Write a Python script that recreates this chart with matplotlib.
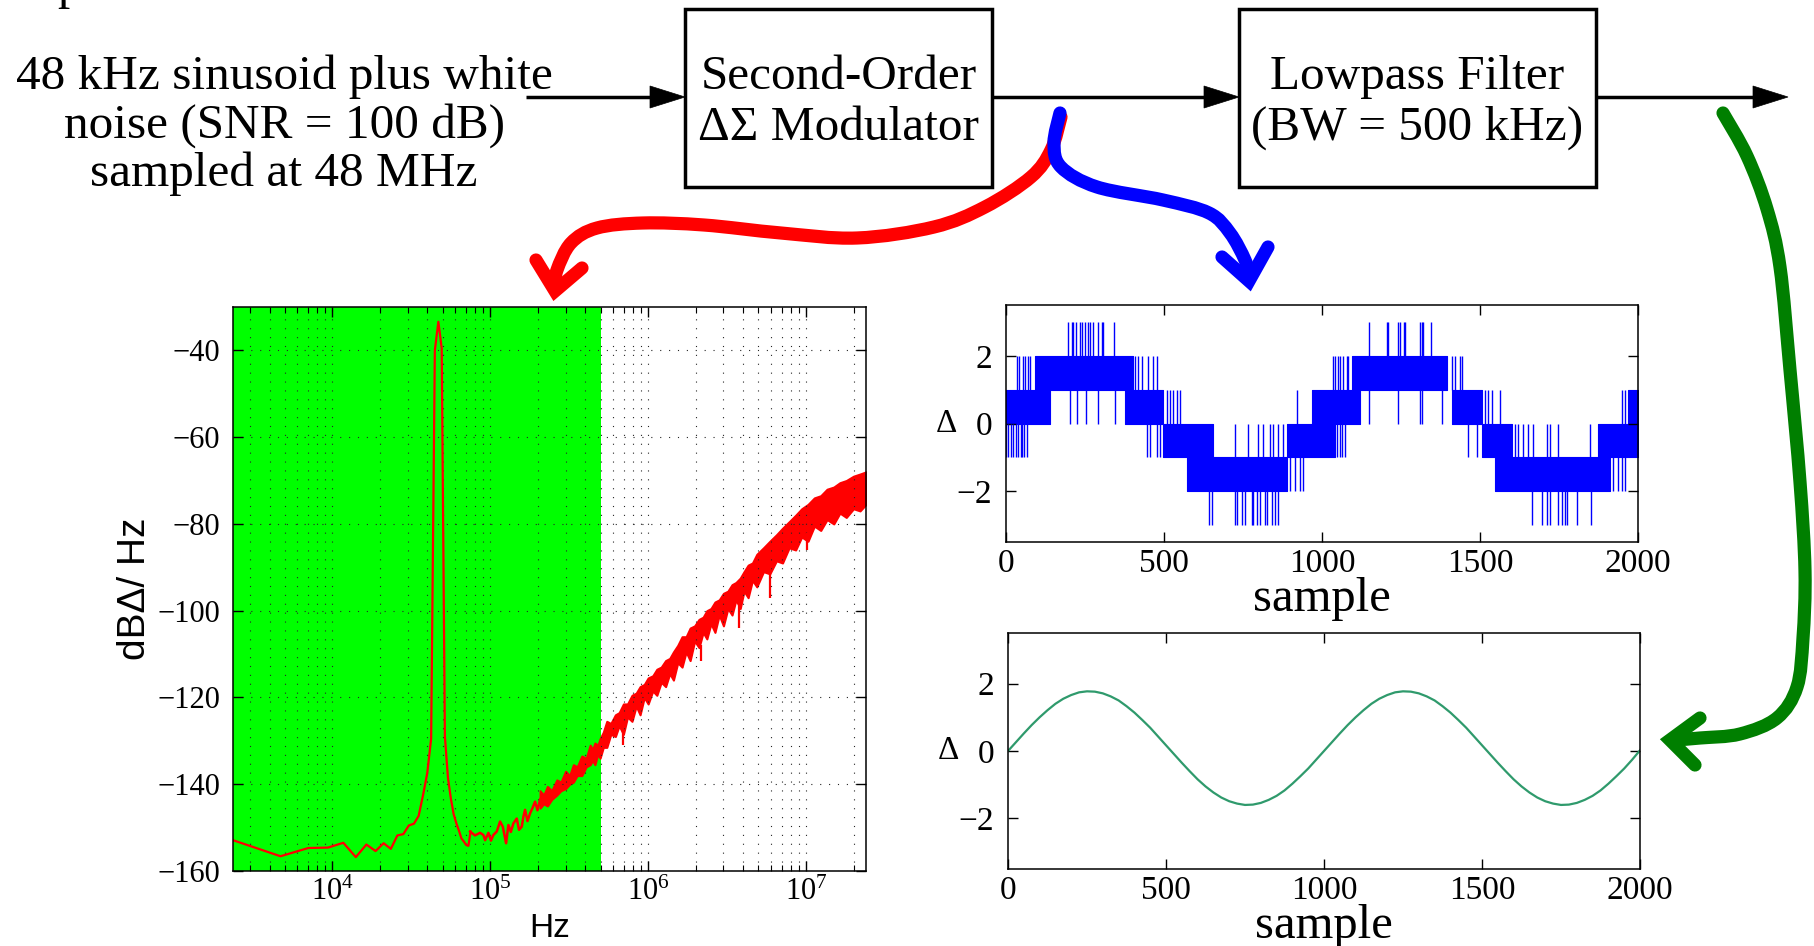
import numpy as np
import matplotlib
matplotlib.use('Agg')
import matplotlib.pyplot as plt
from matplotlib.path import Path
from matplotlib.patches import PathPatch, Rectangle, Polygon
from matplotlib.ticker import LogLocator, NullFormatter

plt.rcParams['font.family'] = 'Liberation Serif'
plt.rcParams['mathtext.fontset'] = 'custom'
plt.rcParams['mathtext.rm'] = 'Liberation Serif'
plt.rcParams['mathtext.it'] = 'Liberation Serif:italic'
plt.rcParams['mathtext.bf'] = 'Liberation Serif:bold'

# ---- spectrum data ----
fs = 48e6
df = 2343.75          # bin spacing, Hz
bw_hz = 500e3         # lowpass bandwidth

lo_bins = np.arange(1, 33)
lo_db = [-152.9, -156.6, -154.7, -154.6, -153.5, -156.8, -153.9, -155.4,
         -153.6, -154.9, -151.8, -151.5, -149.5, -149.1, -147.3, -142.5,
         -137.5, -129.5, -40.0, -33.4, -39.5, -129.0, -138.5, -143.3,
         -146.9, -149.0, -150.7, -152.5, -153.2, -154.0, -154.2, -150.9]

mid_f = [74.4e3, 80e3, 86.1e3, 90.4e3, 92.7e3, 97.3e3, 101e3, 104.6e3,
         109.9e3, 115.3e3, 120e3, 125.9e3, 130.2e3, 135e3, 140.1e3, 147.1e3,
         152e3, 158.2e3, 162e3, 166.1e3, 172e3, 178.7e3, 185e3, 192.2e3,
         199e3, 206.8e3]
mid_db = [-150.9, -151.8, -151.2, -151.7, -152.9, -151.2, -153.0, -151.7,
          -150.9, -148.6, -149.8, -153.6, -149.4, -151.0, -149.0, -147.9,
          -150.5, -149.8, -147.5, -145.9, -148.5, -146.7, -145.5, -144.0,
          -146.0, -143.5]

rib_f = [206.8e3, 218e3, 230e3, 245e3, 263.8e3, 280e3, 300e3, 318e3, 336e3,
         355e3, 380e3, 405e3, 429e3, 445e3, 460e3, 480e3, 496e3, 520e3, 547e3,
         580e3, 620e3, 655e3, 697e3, 740e3, 790e3, 840e3, 889e3, 945e3, 1.0e6,
         1.07e6, 1.135e6, 1.21e6, 1.29e6, 1.37e6, 1.446e6, 1.54e6, 1.64e6,
         1.74e6, 1.845e6, 1.97e6, 2.1e6, 2.23e6, 2.354e6, 2.5e6, 2.65e6,
         2.82e6, 3.0e6, 3.2e6, 3.4e6, 3.6e6, 3.83e6, 4.05e6, 4.3e6, 4.58e6,
         4.88e6, 5.38e6, 5.9e6, 6.5e6, 7.1e6, 7.82e6, 8.6e6, 9.4e6, 10.3e6,
         11.3e6, 12.4e6, 13.6e6, 15e6, 16.4e6, 18e6, 20e6, 22e6, 24e6]
rib_top = [-141.5, -142.5, -140.5, -141.5, -139.0, -139.5, -137.0, -138.0,
           -135.5, -136.0, -133.5, -134.0, -131.0, -132.0, -130.5, -131.0,
           -129.5, -128.0, -125.5, -126.0, -124.0, -123.5, -121.5, -121.5,
           -119.5, -119.0, -117.5, -117.0, -115.5, -115.0, -113.5, -113.0,
           -111.5, -111.0, -109.5, -108.0, -106.0, -106.0, -104.0, -103.5,
           -102.0, -101.5, -100.0, -99.5, -98.0, -97.5, -96.0, -95.5, -94.0,
           -93.5, -92.5, -91.0, -89.5, -89.0, -87.0, -85.5, -84.0, -82.5,
           -81.0, -79.5, -78.0, -76.5, -75.5, -74.0, -73.5, -72.0, -71.5,
           -70.5, -70.0, -69.0, -68.5, -68.0]
rib_bot = [-145.5, -144.5, -145.0, -143.5, -142.5, -141.5, -141.0, -140.0,
           -139.5, -138.0, -138.0, -136.0, -135.5, -134.5, -135.5, -133.0,
           -134.0, -131.5, -131.5, -128.5, -129.0, -126.5, -128.5, -124.5,
           -125.5, -122.0, -124.0, -120.0, -121.5, -118.5, -119.5, -116.5,
           -117.5, -114.5, -116.0, -112.0, -113.0, -109.5, -111.5, -107.0,
           -108.5, -105.0, -106.5, -103.0, -105.0, -101.0, -103.5, -99.5,
           -101.0, -97.5, -99.5, -95.5, -97.0, -93.0, -94.5, -91.0, -91.5,
           -88.5, -89.0, -85.5, -86.0, -83.0, -84.0, -80.5, -81.5, -79.0,
           -80.0, -77.5, -78.5, -76.5, -77.0, -75.5]

spk_f = [697e3, 2.17e6, 3.79e6, 5.93e6, 10.2e6]
spk_hi = [-127.0, -108.0, -99.0, -90.0, -82.0]
spk_lo = [-131.0, -111.6, -104.0, -97.0, -86.0]

# ---- delta-sigma output (levels -3..3), dense bands + single transitions ----
blk_start = [0, 92, 376, 498, 572, 888, 967, 1094, 1410, 1505, 1547, 1874, 1968]
blk_end = [139, 403, 498, 656, 888, 1041, 1120, 1394, 1505, 1600, 1911, 2000, 2000]
blk_lo = [0, 1, 0, -1, -2, -1, 0, 1, 0, -1, -2, -1, 0]

ln_p2 = [197, 208, 213, 222, 234, 241, 250, 261, 266, 276, 290, 303, 308, 343,
         1150, 1205, 1210, 1240, 1247, 1258, 1263, 1310, 1315, 1321, 1344]
ln_p1 = [34, 42, 53, 60, 71, 76, 408, 419, 429, 450, 466, 477,
         1036, 1041, 1052, 1057, 1068, 1078, 1083, 1410, 1420, 1436, 1442]
ln_0 = [203, 224, 253, 290, 345, 508, 519, 530, 540, 550, 920, 978,
        1150, 1241, 1310, 1315, 1379, 1516, 1526, 1537, 1563, 1948, 1958]
ln_m1 = [0, 7, 16, 21, 32, 39, 46, 52, 57, 65, 445, 456, 477, 487,
         725, 767, 798, 814, 835, 846, 862, 878, 1046, 1057, 1062, 1073,
         1463, 1490, 1611, 1621, 1637, 1653, 1669, 1711, 1721, 1748, 1848]
ln_m2 = [900, 915, 930, 941, 1922, 1937, 1948, 1958]
ln_m3 = [643, 651, 725, 732, 746, 756, 777, 783, 793, 804, 820, 825, 841,
         851, 862, 1665, 1695, 1711, 1721, 1748, 1758, 1769, 1774, 1806, 1850]

# ---- lowpass filter output, read every 25 samples ----
lp_n = np.arange(0, 2001, 25)
lp_y = [0.00, 0.26, 0.52, 0.77, 1.00, 1.21, 1.40, 1.55, 1.66, 1.74,
        1.77, 1.76, 1.71, 1.62, 1.50, 1.33, 1.14, 0.92, 0.69, 0.43,
        0.17, -0.09, -0.35, -0.60, -0.84, -1.05, -1.23, -1.38, -1.49, -1.56,
        -1.60, -1.59, -1.54, -1.45, -1.33, -1.17, -0.97, -0.75, -0.52, -0.26,
        0.00, 0.26, 0.52, 0.77, 1.00, 1.21, 1.40, 1.55, 1.66, 1.74,
        1.77, 1.76, 1.71, 1.62, 1.50, 1.33, 1.14, 0.92, 0.69, 0.43,
        0.17, -0.09, -0.35, -0.60, -0.84, -1.05, -1.23, -1.38, -1.49, -1.56,
        -1.60, -1.59, -1.54, -1.45, -1.33, -1.17, -0.97, -0.75, -0.52, -0.26,
        0.02]

W, H = 1814, 946
fig = plt.figure(figsize=(W / 100, H / 100), dpi=100)


def px_axes(x0, y0, x1, y1, **kw):
    return fig.add_axes([x0 / W, 1 - y1 / H, (x1 - x0) / W, (y1 - y0) / H], **kw)


def matlab_ticks(a, size):
    a.tick_params(which='both', direction='in', top=True, right=True,
                  labelsize=size, width=1.0)
    a.tick_params(which='major', length=7)
    a.tick_params(which='minor', length=4, width=0.8)
    for sp in a.spines.values():
        sp.set_linewidth(1.1)


# spectrum
ax = px_axes(233, 307, 866, 871)
ax.set_xscale('log')
ax.axvspan(df, bw_hz, color='#00ff00', lw=0, zorder=0)
ax.plot(lo_bins * df, lo_db, color='r', lw=1.6)
ax.plot(mid_f, mid_db, color='r', lw=1.8)
ax.fill_between(rib_f, rib_bot, rib_top, color='r', lw=1.5)
ax.vlines(spk_f, spk_lo, spk_hi, color='r', lw=1.6)
ax.set_xlim(df, fs / 2)
ax.set_ylim(-160, -30)
ax.set_yticks(np.arange(-160, -39, 20))
ax.xaxis.set_major_locator(LogLocator(base=10, numticks=12))
ax.xaxis.set_minor_locator(LogLocator(base=10, subs=np.arange(2, 10), numticks=100))
ax.xaxis.set_minor_formatter(NullFormatter())
dots = dict(ls=(0, (1, 7)), lw=0.8, color='0.15')
ax.grid(True, which='both', axis='x', **dots)
ax.grid(True, which='major', axis='y', **dots)
matlab_ticks(ax, 22)
ax.tick_params(axis='y', pad=9)
ax.tick_params(axis='x', pad=5)
ax.set_xlabel('Hz', family='Liberation Sans', fontsize=24, labelpad=4)
ax.set_ylabel('dB\u0394/ Hz', family='Liberation Sans', fontsize=28, labelpad=3)

# modulator output
ax1 = px_axes(1006, 305, 1638, 542)
for s0, s1, lo in zip(blk_start, blk_end, blk_lo):
    ax1.fill_between([s0, s1], lo, lo + 1, color='b', lw=0.8)
for lo, xs in [(2, ln_p2), (1, ln_p1), (0, ln_0), (-1, ln_m1), (-2, ln_m2), (-3, ln_m3)]:
    ax1.vlines(xs, lo, lo + 1, color='b', lw=1.0)

# filter output
ax2 = px_axes(1008, 633, 1640, 869)
ax2.plot(lp_n, lp_y, color='#2f9a6c', lw=1.6)

for a in (ax1, ax2):
    a.set_xlim(0, 2000)
    a.set_ylim(-3.5, 3.5)
    a.set_xticks(np.arange(0, 2001, 500))
    a.set_yticks([-2, 0, 2])
    matlab_ticks(a, 24)
    a.tick_params(axis='y', pad=10)
    a.tick_params(axis='x', pad=5)
    a.set_xlabel('sample', fontsize=35, labelpad=-2)
    a.set_ylabel('\u0394', fontsize=24, rotation=0, ha='center', va='center')
    a.yaxis.set_label_coords(-0.095, 0.5)

# ---- block diagram overlay ----
ov = fig.add_axes([0, 0, 1, 1], zorder=5)
ov.set_xlim(0, W)
ov.set_ylim(H, 0)
ov.axis('off')

fsz = 35.5
ov.text(57, -1, 'p', fontsize=fsz, ha='left', va='baseline')
for s, yb in [('48 kHz sinusoid plus white', 89), ('noise (SNR = 100 dB)', 138),
              ('sampled at 48 MHz', 186)]:
    ov.text(284, yb, s, fontsize=fsz, ha='center', va='baseline')

boxes = [(685, 992, ['Second-Order', '\u0394\u03a3 Modulator']),
         (1239, 1596, ['Lowpass Filter', '(BW = 500 kHz)'])]
for x0, x1, lines in boxes:
    ov.add_patch(Rectangle((x0, 9), x1 - x0, 178, fill=False, lw=2.5, ec='k'))
    for s, yb in zip(lines, [89, 140]):
        ov.text((x0 + x1) / 2, yb, s, fontsize=fsz, ha='center', va='baseline')

ya = 97
for xs, xt in [(526, 685), (992, 1239), (1596, 1788)]:
    ov.plot([xs, xt - 30], [ya, ya], color='k', lw=2.5, solid_capstyle='butt')
    ov.add_patch(Polygon([(xt, ya), (xt - 35, ya - 11), (xt - 35, ya + 11)],
                         closed=True, fc='k', ec='k', lw=0.5))


def smooth_path(pts):
    pts = np.asarray(pts, float)
    n = len(pts)
    verts, codes = [pts[0]], [Path.MOVETO]
    for i in range(n - 1):
        p0, p1 = pts[max(i - 1, 0)], pts[i]
        p2, p3 = pts[i + 1], pts[min(i + 2, n - 1)]
        verts += [p1 + (p2 - p0) / 6, p2 - (p3 - p1) / 6, p2]
        codes += [Path.CURVE4] * 3
    return Path(verts, codes)


curves = [
    ('#ff0000',
     [(1061, 117), (1051, 150), (1031, 177), (985, 207), (934, 227), (857, 238),
      (781, 233), (704, 225), (643, 223), (597, 228), (571, 243), (557, 270),
      (555, 286)],
     [(536, 260), (555, 291), (582, 268)]),
    ('#0000ff',
     [(1060, 113), (1054, 143), (1061, 167), (1097, 187), (1163, 200),
      (1209, 213), (1230, 233), (1245, 260), (1249, 276)],
     [(1222, 257), (1249, 281), (1268, 247)]),
    ('#007f00',
     [(1723, 113), (1747, 156), (1767, 209), (1780, 267), (1790, 370),
      (1800, 482), (1805, 571), (1803, 638), (1797, 687), (1777, 718),
      (1740, 734), (1700, 738), (1676, 740)],
     [(1700, 718), (1670, 740), (1695, 765)]),
]
for col, pts, head in curves:
    ov.add_patch(PathPatch(smooth_path(pts), fc='none', ec=col, lw=9.5,
                           capstyle='round', joinstyle='round'))
    hx, hy = zip(*head)
    ov.plot(hx, hy, color=col, lw=9.5, solid_capstyle='round',
            solid_joinstyle='miter')

fig.savefig('out.png', dpi=100)
